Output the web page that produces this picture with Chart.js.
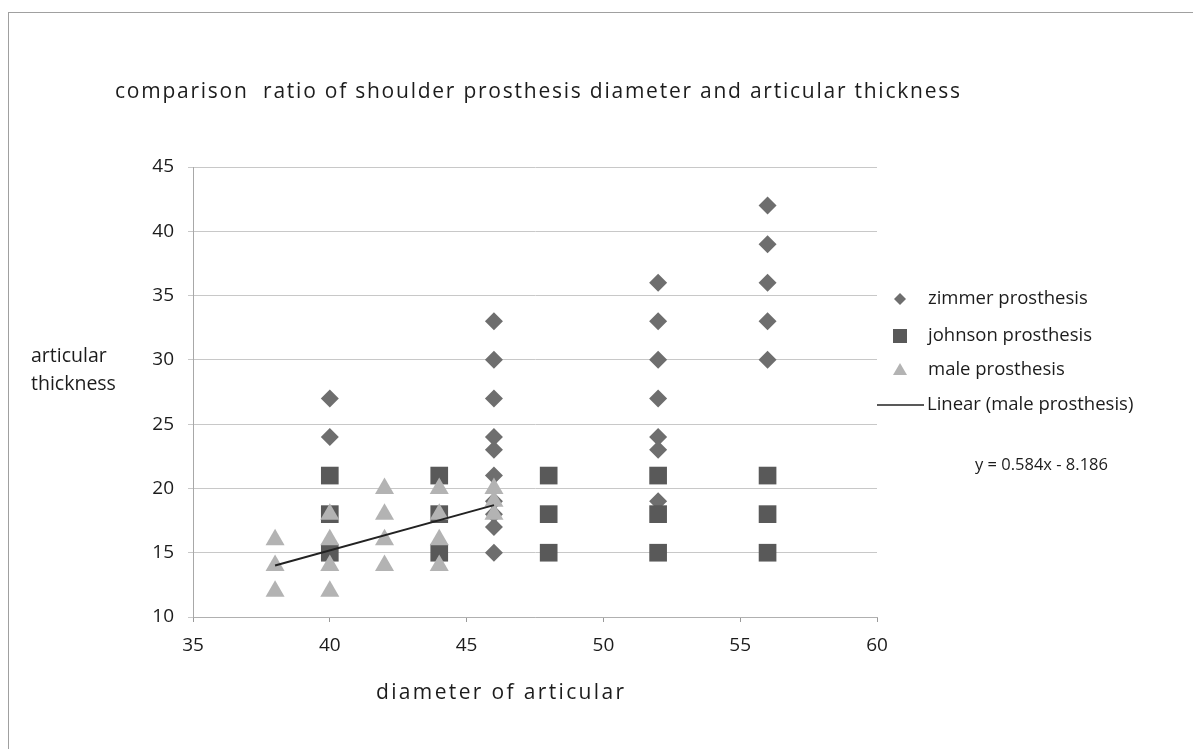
<!DOCTYPE html>
<html>
<head>
<meta charset="utf-8">
<script src="https://cdn.jsdelivr.net/npm/chart.js@4"></script>
<style>
  html, body { margin: 0; padding: 0; background: #fff; }
  #wrap { position: relative; width: 1193px; height: 749px; }
</style>
</head>
<body>
<div id="wrap"><canvas id="chart" width="1193" height="749"></canvas></div>
<script>
// data
const zimmerX = [40, 40, 46, 46, 46, 46, 46, 46, 46, 46, 46, 46, 52, 52, 52, 52, 52, 52, 52, 56, 56, 56, 56, 56];
const zimmerY = [27, 24, 33, 30, 27, 24, 23, 21, 19, 18, 17, 15, 36, 33, 30, 27, 24, 23, 19, 42, 39, 36, 33, 30];
const johnsonX = [40, 40, 40, 44, 44, 44, 48, 48, 48, 52, 52, 52, 56, 56, 56];
const johnsonY = [21, 18, 15, 21, 18, 15, 21, 18, 15, 21, 18, 15, 21, 18, 15];
const maleX = [38, 38, 38, 40, 40, 40, 40, 42, 42, 42, 42, 44, 44, 44, 44, 46, 46, 46];
const maleY = [16, 14, 12, 18, 16, 14, 12, 20, 18, 16, 14, 20, 18, 16, 14, 20, 19, 18];
const trendX = [38, 46];
const trendY = [14.0, 18.7];
const seriesNames = ['zimmer prosthesis', 'johnson prosthesis', 'male prosthesis', 'Linear (male prosthesis)'];
const equation = 'y = 0.584x - 8.186';
const xTicks = [35, 40, 45, 50, 55, 60];
const yTicks = [10, 15, 20, 25, 30, 35, 40, 45];

const FONT = '"Open Sans", "Noto Sans", sans-serif';
const textColor = '#1c1c1c';
const zimmerColor = '#6e6e6e';
const johnsonColor = '#595959';
const maleColor = '#b3b3b3';

function pts(xs, ys) {
  return xs.map(function(x, i) { return { x: x, y: ys[i] }; });
}

// spread text out to the width it takes in the scan
function fitText(ctx, text, x, y, width) {
  ctx.save();
  ctx.letterSpacing = '0px';
  const w = ctx.measureText(text).width;
  ctx.letterSpacing = ((width - w) / (text.length - 1)).toFixed(2) + 'px';
  ctx.fillText(text, x, y);
  ctx.restore();
}

// text that is not part of the axes: title, y title, legend, equation, frame
const extras = {
  id: 'extras',
  afterDraw: function(chart) {
    const ctx = chart.ctx;
    ctx.save();
    ctx.strokeStyle = '#a0a0a0';
    ctx.lineWidth = 1;
    ctx.strokeRect(8.5, 12.5, 1200, 760);

    ctx.fillStyle = textColor;
    ctx.textBaseline = 'middle';
    ctx.textAlign = 'left';
    ctx.font = '21px ' + FONT;
    fitText(ctx, 'comparison  ratio of shoulder prosthesis diameter and articular thickness', 115, 92, 845);
    fitText(ctx, 'diameter of articular', 376, 693, 248);

    ctx.font = '19.5px ' + FONT;
    ctx.fillText('articular', 31, 356);
    ctx.fillText('thickness', 31, 384);

    // legend
    const rows = [299, 336, 370, 405];
    const mx = 900;
    ctx.beginPath();
    ctx.moveTo(mx, rows[0] - 6); ctx.lineTo(mx + 6, rows[0]); ctx.lineTo(mx, rows[0] + 6); ctx.lineTo(mx - 6, rows[0]); ctx.closePath();
    ctx.fillStyle = zimmerColor; ctx.fill();
    ctx.fillStyle = johnsonColor;
    ctx.fillRect(mx - 7, rows[1] - 7, 14, 14);
    ctx.beginPath();
    ctx.moveTo(mx, rows[2] - 7); ctx.lineTo(mx + 7, rows[2] + 5); ctx.lineTo(mx - 7, rows[2] + 5); ctx.closePath();
    ctx.fillStyle = maleColor; ctx.fill();
    ctx.beginPath();
    ctx.moveTo(877, rows[3]); ctx.lineTo(924, rows[3]);
    ctx.strokeStyle = '#222'; ctx.lineWidth = 1.5; ctx.stroke();

    ctx.fillStyle = textColor;
    ctx.font = '18.5px ' + FONT;
    ctx.fillText(seriesNames[0], 928, rows[0]);
    ctx.fillText(seriesNames[1], 928, rows[1]);
    ctx.fillText(seriesNames[2], 928, rows[2]);
    ctx.fillText(seriesNames[3], 927, rows[3]);

    ctx.font = '16.5px ' + FONT;
    ctx.fillText(equation, 975, 465);
    ctx.restore();
  }
};

new Chart(document.getElementById('chart'), {
  type: 'scatter',
  data: {
    datasets: [
      {
        label: seriesNames[0],
        data: pts(zimmerX, zimmerY),
        pointStyle: 'rectRot',
        pointRadius: 9,
        backgroundColor: zimmerColor,
        borderWidth: 0,
        order: 3
      },
      {
        label: seriesNames[1],
        data: pts(johnsonX, johnsonY),
        pointStyle: 'rect',
        pointRadius: 12.5,
        backgroundColor: johnsonColor,
        borderWidth: 0,
        order: 2
      },
      {
        label: seriesNames[2],
        data: pts(maleX, maleY),
        pointStyle: 'triangle',
        pointRadius: 11,
        backgroundColor: maleColor,
        borderWidth: 0,
        order: 1
      },
      {
        label: seriesNames[3],
        data: pts(trendX, trendY),
        showLine: true,
        pointRadius: 0,
        borderColor: '#222',
        borderWidth: 2,
        order: 0
      }
    ]
  },
  options: {
    responsive: false,
    animation: false,
    layout: { padding: { left: 0, top: 167, right: 1193 - 877, bottom: 0 } },
    plugins: {
      legend: { display: false },
      tooltip: { enabled: false }
    },
    scales: {
      x: {
        type: 'linear',
        min: 35,
        max: 60,
        afterBuildTicks: function(s) { s.ticks = xTicks.map(function(v) { return { value: v }; }); },
        afterFit: function(s) { s.height = 749 - 617; },
        grid: { drawOnChartArea: false, drawTicks: true, tickLength: 5, color: '#9a9a9a' },
        border: { color: '#b0b0b0' },
        ticks: { color: textColor, font: { family: FONT, size: 19 }, padding: 12 }
      },
      y: {
        type: 'linear',
        min: 10,
        max: 45,
        afterBuildTicks: function(s) { s.ticks = yTicks.map(function(v) { return { value: v }; }); },
        afterFit: function(s) { s.width = 193; },
        grid: { color: '#c8c8c8', drawTicks: true, tickLength: 5 },
        border: { color: '#a8a8a8' },
        ticks: { color: textColor, font: { family: FONT, size: 19 }, padding: 14 }
      }
    }
  },
  plugins: [extras]
});
</script>
</body>
</html>
